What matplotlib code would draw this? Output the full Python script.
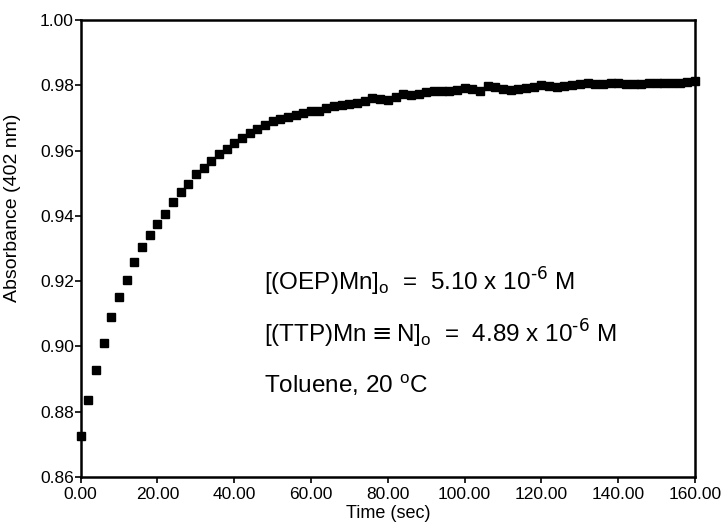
import numpy as np
import matplotlib.pyplot as plt

plt.rcParams['font.family'] = ['Liberation Sans', 'DejaVu Sans']

# time (sec) and absorbance at 402 nm
time = np.arange(0, 161, 2)
absorbance = [
    0.8726, 0.8835, 0.8928, 0.9012, 0.9089, 0.9152, 0.9203, 0.9259, 0.9305, 0.9343,
    0.9376, 0.9407, 0.9443, 0.9473, 0.9497, 0.9527, 0.9548, 0.9568, 0.9589, 0.9604,
    0.9624, 0.9640, 0.9655, 0.9667, 0.9678, 0.9691, 0.9697, 0.9703, 0.9709, 0.9716,
    0.9721, 0.9723, 0.9731, 0.9736, 0.9740, 0.9742, 0.9745, 0.9751, 0.9760, 0.9758,
    0.9754, 0.9765, 0.9774, 0.9770, 0.9775, 0.9779, 0.9782, 0.9783, 0.9782, 0.9785,
    0.9793, 0.9788, 0.9783, 0.9798, 0.9794, 0.9788, 0.9787, 0.9790, 0.9793, 0.9796,
    0.9801, 0.9798, 0.9796, 0.9798, 0.9800, 0.9804, 0.9806, 0.9803, 0.9804, 0.9806,
    0.9806, 0.9805, 0.9803, 0.9804, 0.9806, 0.9806, 0.9806, 0.9807, 0.9808, 0.9810,
    0.9813,
]

xticks = [0, 20, 40, 60, 80, 100, 120, 140, 160]
yticks = [0.86, 0.88, 0.90, 0.92, 0.94, 0.96, 0.98, 1.00]

annot = [
    r"[(OEP)Mn]$_\mathregular{o}$  =  5.10 x 10$^\text{-6}$ M",
    r"[(TTP)Mn$\equiv$N]$_\mathregular{o}$  =  4.89 x 10$^\text{-6}$ M",
    r"Toluene, 20 $^\mathregular{o}$C",
]
annot_y = [0.9197, 0.9037, 0.8881]

fig = plt.figure(figsize=(7.27, 5.30), dpi=100)
ax = fig.add_axes([0.111, 0.100, 0.845, 0.862])

ax.plot(time, absorbance, linestyle='none', marker='s', markersize=5.5,
        color='black', markeredgecolor='black', clip_on=False, zorder=3)

ax.set_xlim(0, 160)
ax.set_ylim(0.86, 1.00)
ax.set_xticks(xticks)
ax.set_xticklabels([f"{v:.2f}" for v in xticks])
ax.set_yticks(yticks)
ax.set_yticklabels([f"{v:.2f}" for v in yticks])
ax.tick_params(direction='out', length=4, width=1.2, labelsize=12.5)
ax.tick_params(axis='x', pad=3)
ax.tick_params(axis='y', pad=1)

for sp in ax.spines.values():
    sp.set_linewidth(1.8)

ax.set_xlabel("Time (sec)", fontsize=13, labelpad=2)
ax.set_ylabel("Absorbance (402 nm)", fontsize=14)
ax.yaxis.set_label_coords(-0.097, 0.59)

for txt, yv in zip(annot, annot_y):
    ax.text(47.8, yv, txt, fontsize=17.5, va='center', ha='left')

fig.savefig("out.png", dpi=100)
